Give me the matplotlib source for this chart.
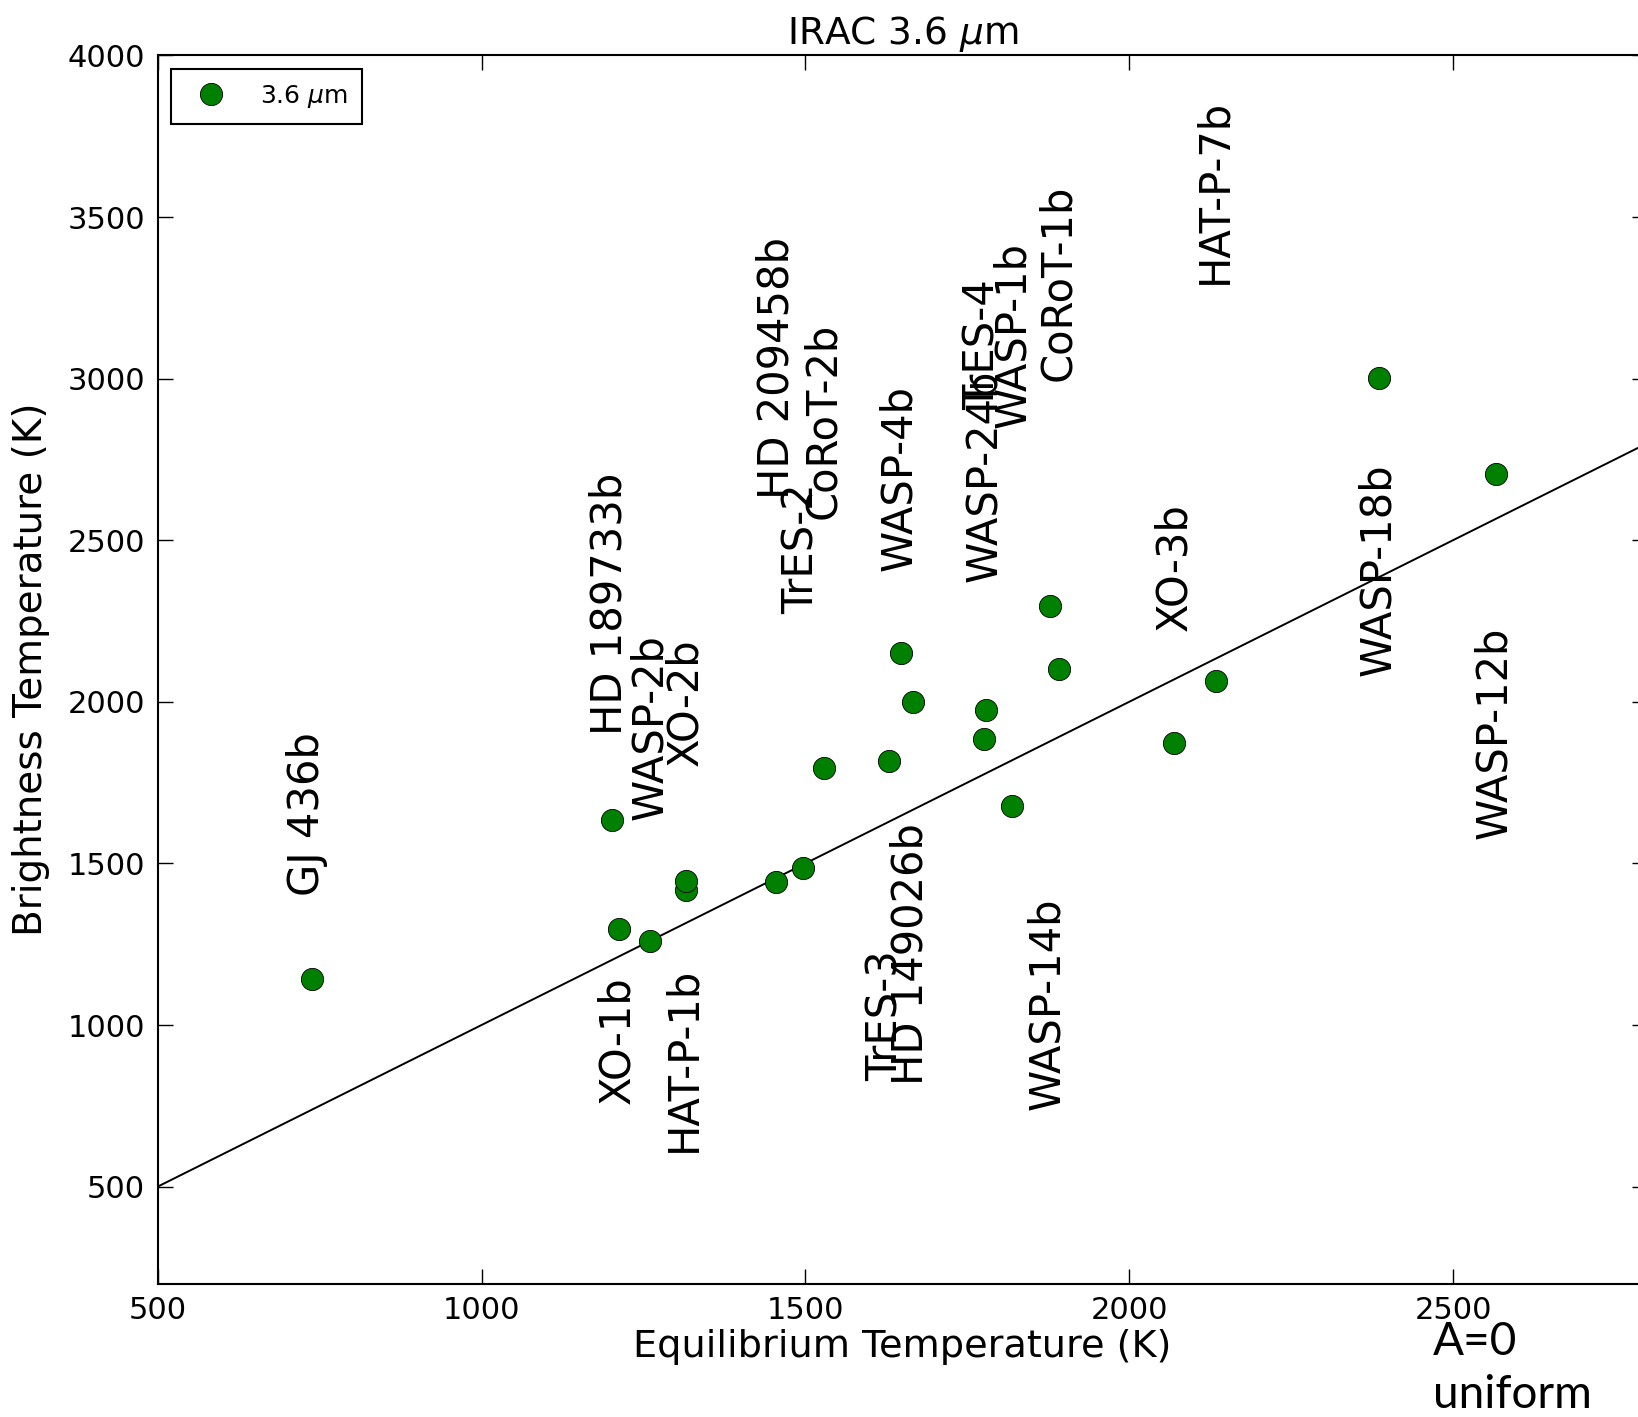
import matplotlib
matplotlib.use("Agg")
import matplotlib.pyplot as plt
import numpy as np

# ---- data ----
teq = [739, 1202, 1213, 1260, 1315, 1316, 1455, 1497, 1529, 1629, 1648,
       1666, 1779, 1776, 1819, 1877, 1892, 2069, 2134, 2386, 2566]
tb = [1143, 1634, 1298, 1259, 1418, 1447, 1443, 1485, 1796, 1818, 2151,
      1999, 1974, 1886, 1679, 2297, 2100, 1873, 2064, 3001, 2704]

label_names = ["GJ 436b", "HD 189733b", "WASP-2b", "XO-2b", "XO-1b", "HAT-P-1b",
               "HD 209458b", "TrES-2", "CoRoT-2b", "WASP-4b", "TrES-3",
               "HD 149026b", "WASP-24b", "TrES-4", "WASP-1b", "CoRoT-1b",
               "WASP-14b", "XO-3b", "HAT-P-7b", "WASP-18b", "WASP-12b"]
label_x = [731, 1198, 1260, 1315, 1210, 1311, 1455, 1495, 1527, 1644, 1624,
           1663, 1776, 1773, 1821, 1890, 1874, 2069, 2132, 2385, 2563]
label_y = [1654, 2302, 1922, 2000, 952, 894, 3032, 2474, 2869, 2693, 1028,
           1219, 2698, 3105, 3134, 3295, 1067, 2418, 3580, 2408, 1904]

one_to_one = [500, 2800]

xticks = [500, 1000, 1500, 2000, 2500]
yticks = [500, 1000, 1500, 2000, 2500, 3000, 3500, 4000]

W, H = 1638, 1417
fig = plt.figure(figsize=(W / 100, H / 100), dpi=100)
left = 157.7 / W
top = 1 - 55.4 / H
right_px = 1647.3
bottom = 1 - 1283.6 / H
ax = fig.add_axes([left, bottom, (right_px - 157.7) / W, top - bottom])

ax.plot(one_to_one, one_to_one, color="black", lw=1.4, zorder=2)
ax.plot(teq, tb, "o", color="green", markersize=16, markeredgecolor="black",
        markeredgewidth=0.6, label=r"3.6 $\mu$m", zorder=3)

for name, lx, ly in zip(label_names, label_x, label_y):
    ax.text(lx, ly, name, rotation=90, fontsize=30, ha="center", va="center",
            color="black", zorder=4)

ax.set_xlim(500, 2800)
ax.set_ylim(200, 4000)
ax.set_xticks(xticks)
ax.set_yticks(yticks)
ax.tick_params(direction="in", length=11, width=1.0, labelsize=22,
               top=True, right=True, pad=9, colors="black")
for s in ax.spines.values():
    s.set_linewidth(1.5)

ax.set_xlabel("Equilibrium Temperature (K)", fontsize=27.5, labelpad=3)
ax.set_ylabel("Brightness Temperature (K)", fontsize=28, labelpad=13)
ax.set_title(r"IRAC 3.6 $\mu$m", fontsize=27, pad=8)

leg = ax.legend(loc="upper left", numpoints=1, fontsize=18, fancybox=False,
                framealpha=1, edgecolor="black", borderpad=0.55,
                handlelength=2.1, handletextpad=0.9, borderaxespad=0.55)
leg.get_frame().set_linewidth(1.5)

fig.text(1433 / W, 1 - 1355 / H, "A=0", fontsize=33, family="Lato",
         ha="left", va="baseline")
fig.text(1433 / W, 1 - 1408 / H, "uniform", fontsize=33, family="Lato",
         ha="left", va="baseline")

fig.savefig("out.png", dpi=100, facecolor="white")
